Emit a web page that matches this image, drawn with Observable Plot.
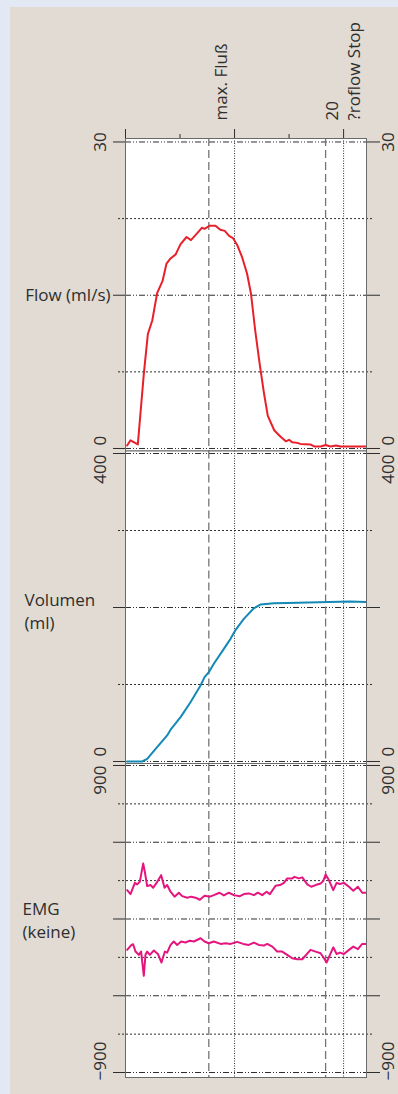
<!DOCTYPE html>
<html><head><meta charset="utf-8">
<script src="https://cdn.jsdelivr.net/npm/d3@7"></script>
<script src="https://cdn.jsdelivr.net/npm/@observablehq/plot@0.6"></script>
<style>
html,body{margin:0;padding:0;background:#e2e9f4;}
#page{position:relative;width:398px;height:1094px;background:#e2e9f4;overflow:hidden;}
#panel{position:absolute;left:10px;top:7px;right:0;bottom:0;background:#e1dbd3;}
#page svg{position:absolute;left:0;top:0;}
</style></head><body><div id="page"><div id="panel"></div></div>
<script>
// ---- data ----
const flowT = [0.15,0.46,1.13,1.68,2.05,2.45,2.9,3.4,3.76,4.13,4.6,5.05,5.6,6.0,6.6,7.0,7.25,7.7,8.25,8.7,9.1,9.5,9.85,10.25,10.7,11.15,11.5,11.9,12.3,12.7,13.05,13.65,14.2,14.7,15.0,15.3,15.75,16.05,16.95,17.3,17.9,18.35,18.8,19.3,19.7,22.0];
const flowV = [0.3,0.8,0.4,7.3,11.2,12.5,15.2,16.4,18.1,18.6,19.0,20.0,20.7,20.4,21.1,21.6,21.5,21.8,21.8,21.4,21.3,20.8,20.6,19.9,18.7,17.1,15.2,11.5,8.3,5.4,3.2,1.76,1.17,0.7,0.85,0.6,0.55,0.45,0.4,0.2,0.2,0.35,0.2,0.3,0.2,0.2];

const volT = [0.15,1.53,1.99,2.9,3.82,4.19,5.05,5.96,6.88,7.25,7.64,8.1,9.02,9.63,10.1,10.85,11.77,12.4,13.6,14.83,20.6,22.0];
const volV = [0,0,3.5,18.6,33.8,42.4,57.6,77,98.7,109.5,116,126.9,146.3,159.3,171,185.3,199,204,205.6,206,207.8,207];

const emgUpT = [0.15,0.46,0.86,1.07,1.31,1.62,1.77,1.99,2.29,2.54,2.91,3.27,3.58,3.82,4.13,4.5,4.89,5.2,5.66,6.02,6.42,6.82,7.25,7.74,8.1,8.62,9.02,9.48,9.94,10.49,10.86,11.31,11.77,12.14,12.54,12.94,13.24,13.76,14.16,14.53,14.83,15.29,15.5,15.9,16.21,16.67,17.03,17.43,17.89,18.13,18.35,18.65,19.05,19.36,19.66,20.03,20.49,20.89,21.31,21.71,22.02];
const emgUpV = [169,146,212,203,218,325,277,193,199,183,218,257,183,199,160,131,154,134,125,131,125,113,136,131,140,154,138,154,140,134,146,150,140,154,140,160,146,195,199,212,238,238,247,238,244,203,189,199,208,222,261,228,169,212,205,212,189,166,189,154,154];

const emgLoT = [0.15,0.55,0.7,0.92,1.22,1.43,1.68,1.83,1.99,2.23,2.6,2.97,3.3,3.61,3.82,4.13,4.43,4.74,5.1,5.5,5.9,6.27,6.88,7.25,7.64,8.1,8.72,9.17,9.63,10.24,10.79,11.31,11.77,12.23,12.69,13.0,13.46,13.91,14.37,14.83,15.29,15.75,16.21,16.97,17.43,17.89,18.2,18.44,18.81,19.05,19.36,19.66,20.03,20.49,20.89,21.31,21.71,22.02];
const emgLoV = [-181,-152,-148,-191,-210,-191,-333,-210,-191,-210,-185,-205,-255,-191,-197,-152,-132,-152,-132,-138,-127,-132,-113,-132,-142,-132,-146,-142,-146,-134,-146,-152,-138,-152,-156,-146,-162,-191,-191,-210,-230,-236,-236,-181,-191,-201,-230,-255,-201,-166,-205,-197,-205,-181,-162,-177,-146,-146];

const markerTimes = [7.64, 18.35];          // max. Fluß, Uroflow stop
const markerLabels = ["max. Fluß", "20\n?roflow Stop"];
const markerLabelAt = [7.64, 20];
const xMajorTicks = [0, 10, 20];
const xMinorTicks = [5, 15];
const xGrid = [10, 20];

const flowMajor = [0, 15, 30], flowMinor = [7.5, 22.5];
const volMajor = [0, 200, 400], volMinor = [100, 300];
const emgMajor = [-900, -450, 0, 450, 900], emgMinor = [-675, -225, 225, 675];

const flowEnds = ["30", "0"];
const volEnds = ["400", "0"];
const emgEnds = ["900", "\u2212900"];
const panelTitles = ["Flow (ml/s)", "Volumen\n(ml)", "EMG\n(keine)"];

// ---- layout ----
const W = 398, H = 1094;
const FONT = "'Open Sans', sans-serif";
const INK = "#2e2e2e";
const xDomain = [0, 22.1];

function zip(t, v) { return t.map((d, i) => ({t: d, v: v[i]})); }

function endLabel(text, value, anchor, dy) {
  const o = {y: [value], text: [text], rotate: -90, textAnchor: anchor, dy, fill: INK};
  return [
    Plot.text([0], {...o, frameAnchor: "left", dx: -25}),
    Plot.text([0], {...o, frameAnchor: "right", dx: 22})
  ];
}

function panel(top, bottom, yDomain, major, minor, marks) {
  return Plot.plot({
    width: W, height: H,
    marginLeft: 125, marginRight: 32, marginTop: top, marginBottom: H - bottom,
    x: {domain: xDomain, axis: null},
    y: {domain: yDomain, axis: null},
    style: {background: "transparent", fontFamily: FONT, fontSize: "17px", color: INK, overflow: "visible"},
    marks: [
      Plot.frame({fill: "white", stroke: "none"}),
      Plot.ruleY(minor, {stroke: INK, strokeDasharray: "2,2", insetLeft: -7, insetRight: -6}),
      Plot.ruleY(major, {stroke: INK, strokeDasharray: "6,2,1,2,1,2"}),
      Plot.axisY(major, {anchor: "left", tickSize: 12, tickFormat: () => "", label: null, stroke: INK}),
      Plot.axisY(major, {anchor: "right", tickSize: 13, tickFormat: () => "", label: null, stroke: INK}),
      Plot.ruleX(markerTimes, {stroke: "#757575", strokeDasharray: "8,4", strokeWidth: 1.3}),
      Plot.ruleX(xGrid, {stroke: INK, strokeDasharray: "1,1.5"}),
      ...marks,
      Plot.frame({stroke: "#6a6a6a"})
    ]
  });
}

const p1 = panel(138, 450.5, [-0.245, 30.34], flowMajor, flowMinor, [
  Plot.line(zip(flowT, flowV), {x: "t", y: "v", stroke: "#e8202a", strokeWidth: 2}),
  Plot.axisX(xMajorTicks, {anchor: "top", tickSize: 10, tickFormat: () => "", label: null, stroke: INK}),
  Plot.axisX(xMinorTicks, {anchor: "top", tickSize: 5, tickFormat: () => "", label: null, stroke: INK}),
  Plot.text([0], {x: [markerLabelAt[0]], text: [markerLabels[0]], frameAnchor: "top", rotate: -90, textAnchor: "start", dx: 6, dy: -18, fill: INK}),
  Plot.text([0], {x: [markerLabelAt[1]], text: [markerLabels[1]], frameAnchor: "top", rotate: -90, textAnchor: "start", lineHeight: 1.3, dx: -21, dy: -18, fill: INK}),
  Plot.text([0], {y: [15], text: [panelTitles[0]], frameAnchor: "left", textAnchor: "end", dx: -15, fill: INK}),
  ...endLabel(flowEnds[0], 30, "middle", 0),
  ...endLabel(flowEnds[1], 0, "start", -3)
]);

const p2 = panel(450.5, 763, [-2.6, 403.25], volMajor, volMinor, [
  Plot.line(zip(volT, volV), {x: "t", y: "v", stroke: "#1289b6", strokeWidth: 2}),
  Plot.text([0], {y: [200], text: [panelTitles[1]], frameAnchor: "left", textAnchor: "start", lineHeight: 1.35, dx: -101, dy: 3, fill: INK}),
  ...endLabel(volEnds[0], 400, "end", 1),
  ...endLabel(volEnds[1], 0, "start", -5)
]);

const p3 = panel(763, 1077, [-929.3, 911.7], emgMajor, emgMinor, [
  Plot.line(zip(emgUpT, emgUpV), {x: "t", y: "v", stroke: "#e5157f", strokeWidth: 2}),
  Plot.line(zip(emgLoT, emgLoV), {x: "t", y: "v", stroke: "#e5157f", strokeWidth: 2}),
  Plot.text([0], {y: [0], text: [panelTitles[2]], frameAnchor: "left", textAnchor: "start", lineHeight: 1.35, dx: -103, dy: 0, fill: INK}),
  ...endLabel(emgEnds[0], 900, "end", 0),
  ...endLabel(emgEnds[1], -900, "start", 8)
]);

const page = document.getElementById("page");
page.append(p1, p2, p3);
</script>
</body></html>
